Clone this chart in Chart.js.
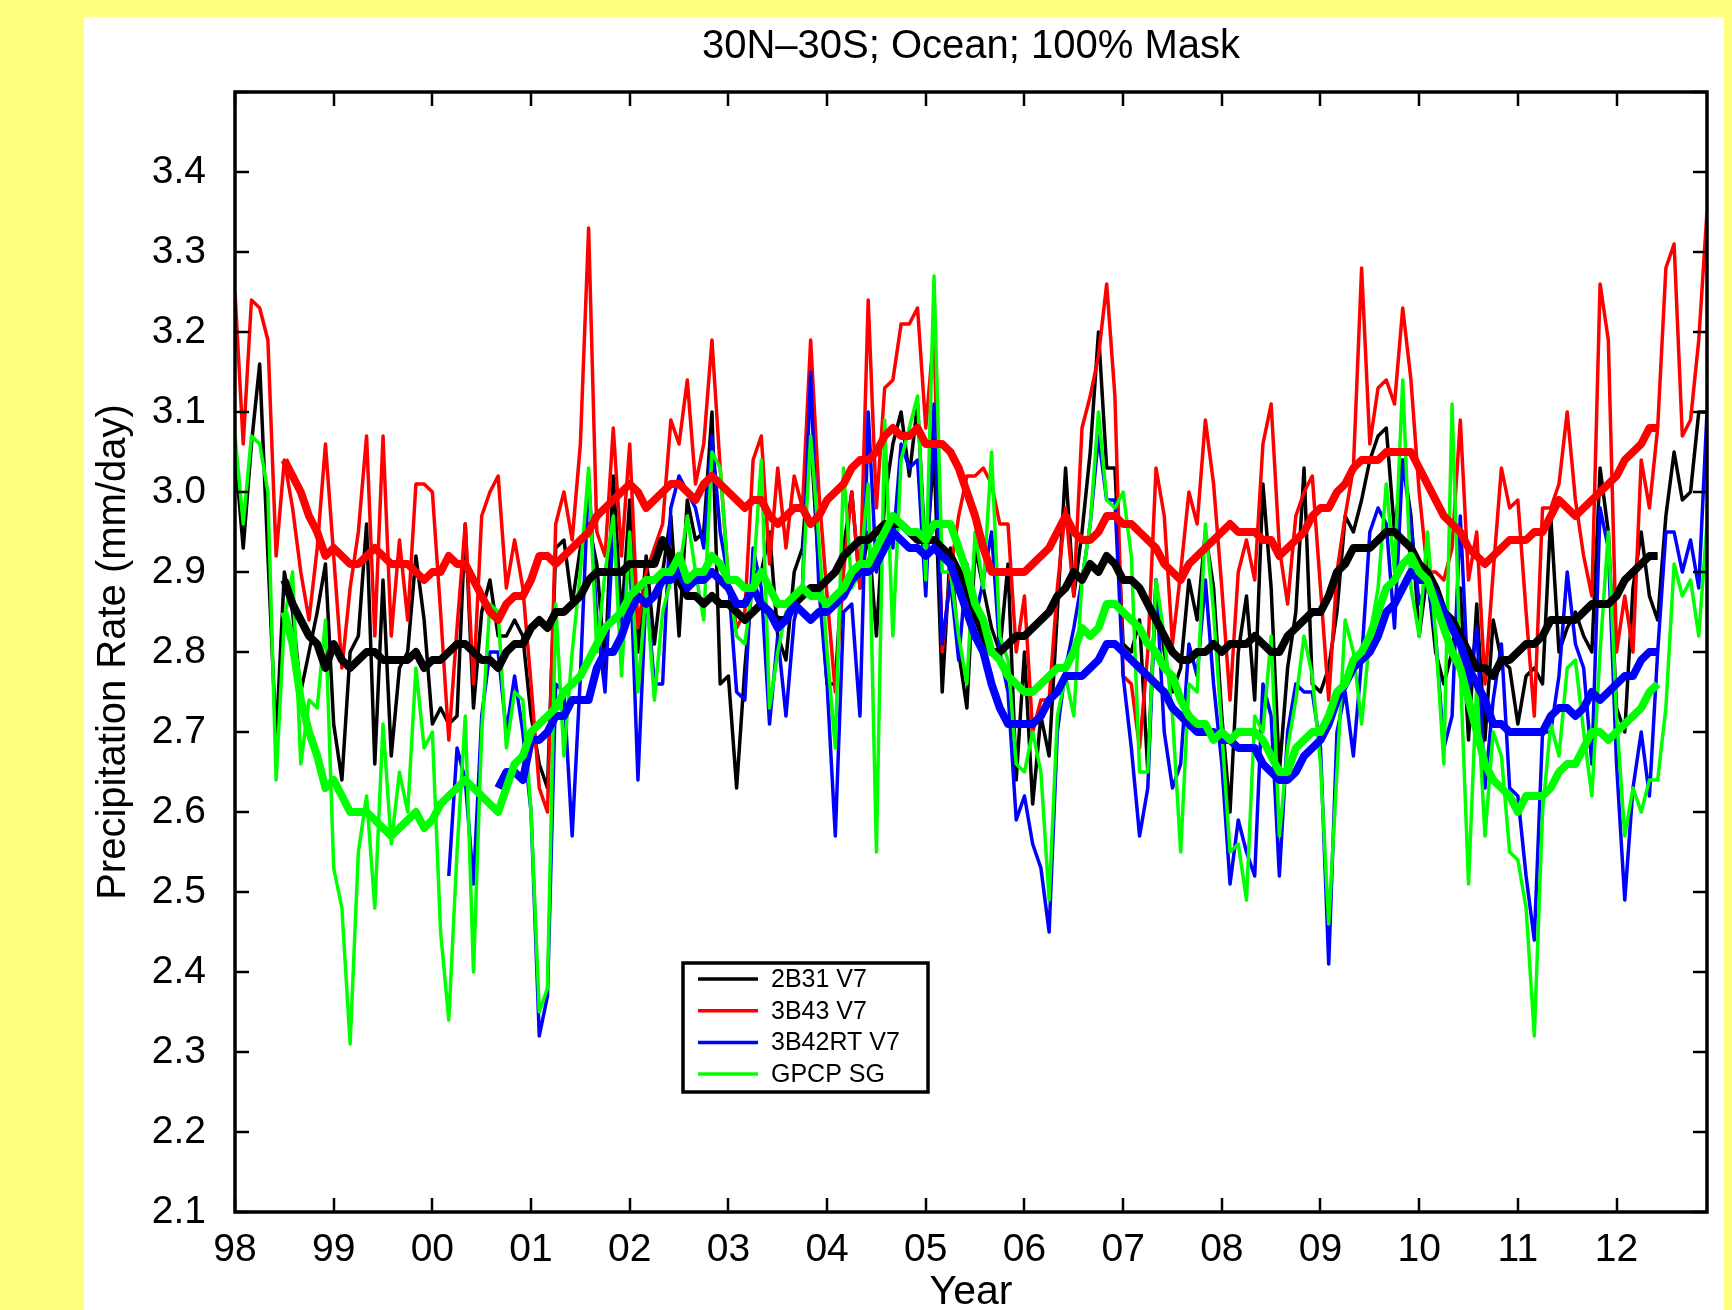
<!DOCTYPE html>
<html>
<head>
<meta charset="utf-8">
<script src="https://cdn.jsdelivr.net/npm/chart.js@4.4.1/dist/chart.umd.min.js"></script>
<style>
  html, body { margin: 0; padding: 0; background: #ffff80; overflow: hidden; }
  #panel { position: absolute; left: 84px; top: 17px; width: 1640px; height: 1300px; background: #fff; }
</style>
</head>
<body>
<div id="panel"><canvas id="chart"></canvas></div>
<script>
// Monthly tropical ocean precipitation, Jan 1998 - Dec 2012 (month index 0..179)

const yearLabels = ["98", "99", "00", "01", "02", "03", "04", "05", "06", "07", "08", "09", "10", "11", "12"];
const yTickValues = [2.1, 2.2, 2.3, 2.4, 2.5, 2.6, 2.7, 2.8, 2.9, 3.0, 3.1, 3.2, 3.3, 3.4, 3.5];
const seriesNames = ["2B31 V7", "3B43 V7", "3B42RT V7", "GPCP SG"];
const seriesColors = ["#000000", "#ff0000", "#0000ff", "#00ff00"];
const titleText = "30N\u201330S; Ocean; 100% Mask";

// 3B42RT starts in March 2000; running means start 6 months in
const rtStart = 26;
const meanStart = 6;
const rtMeanStart = 32;

// 2B31 V7, one row per year
const tmi2b31 = [
  3.05, 2.93, 3.06, 3.16, 2.92, 2.69, 2.90, 2.85, 2.75, 2.80, 2.85, 2.91,
  2.71, 2.64, 2.80, 2.82, 2.96, 2.66, 2.89, 2.67, 2.78, 2.80, 2.92, 2.84,
  2.71, 2.73, 2.71, 2.72, 2.96, 2.73, 2.85, 2.89, 2.82, 2.82, 2.84, 2.82,
  2.72, 2.66, 2.63, 2.93, 2.94, 2.86, 2.93, 2.96, 2.91, 2.78, 3.02, 2.84,
  2.99, 2.80, 2.92, 2.81, 2.90, 2.97, 2.82, 2.99, 2.94, 2.95, 3.10, 2.76,
  2.77, 2.63, 2.78, 2.90, 2.90, 2.95, 2.82, 2.79, 2.90, 2.93, 3.07, 2.90,
  2.76, 2.76, 2.93, 3.00, 2.88, 2.95, 2.82, 2.99, 3.06, 3.10, 3.02, 3.11,
  2.91, 3.05, 2.75, 2.93, 2.80, 2.73, 2.93, 2.88, 2.83, 2.80, 2.91, 2.64,
  2.80, 2.61, 2.72, 2.67, 2.85, 3.03, 2.87, 2.95, 3.05, 3.20, 3.03, 3.03,
  2.81, 2.80, 2.84, 2.65, 2.89, 2.80, 2.75, 2.78, 2.89, 2.84, 2.95, 2.88,
  2.72, 2.60, 2.80, 2.87, 2.74, 3.01, 2.88, 2.65, 2.78, 2.85, 3.03, 2.76,
  2.75, 2.78, 2.85, 2.97, 2.95, 2.99, 3.04, 3.07, 3.08, 2.95, 3.04, 2.97,
  2.82, 2.90, 2.80, 2.76, 2.80, 2.88, 2.69, 2.86, 2.69, 2.84, 2.79, 2.78,
  2.71, 2.77, 2.78, 2.76, 2.97, 2.80, 2.83, 2.85, 2.82, 2.80, 3.03, 2.95,
  2.73, 2.70, 2.88, 2.95, 2.87, 2.84, 2.97, 3.05, 2.99, 3.00, 3.10, 3.10
];

// 3B43 V7
const tmpa3b43 = [
  3.25, 3.06, 3.24, 3.23, 3.19, 2.92, 3.04, 2.98, 2.90, 2.84, 2.93, 3.06,
  2.92, 2.78, 2.88, 2.95, 3.07, 2.82, 3.07, 2.82, 2.94, 2.84, 3.01, 3.01,
  3.00, 2.85, 2.69, 2.83, 2.96, 2.76, 2.97, 3.00, 3.02, 2.88, 2.94, 2.88,
  2.76, 2.63, 2.60, 2.96, 3.00, 2.94, 3.06, 3.33, 2.95, 2.92, 3.08, 2.92,
  3.06, 2.83, 2.90, 2.93, 2.96, 3.09, 3.06, 3.14, 3.01, 3.06, 3.19, 3.03,
  2.89, 2.83, 2.85, 3.04, 3.07, 2.91, 3.03, 2.93, 3.02, 2.98, 3.19, 3.00,
  2.87, 2.75, 2.90, 3.00, 2.88, 3.24, 2.98, 3.13, 3.14, 3.21, 3.21, 3.23,
  3.08, 3.20, 2.80, 2.90, 2.97, 3.02, 3.02, 3.03, 3.01, 2.96, 2.96, 2.80,
  2.87, 2.70, 2.74, 2.74, 2.88, 2.98, 2.87, 3.08, 3.12, 3.17, 3.26, 3.12,
  2.77, 2.76, 2.68, 2.80, 3.03, 2.97, 2.81, 2.90, 3.00, 2.96, 3.09, 3.01,
  2.88, 2.74, 2.90, 2.94, 2.89, 3.06, 3.11, 2.93, 2.86, 2.97, 3.00, 3.02,
  2.88, 2.74, 2.90, 2.97, 3.03, 3.28, 3.06, 3.13, 3.14, 3.11, 3.23, 3.14,
  3.00, 2.90, 2.90, 2.89, 2.93, 3.09, 2.89, 2.95, 2.76, 2.90, 3.03, 2.98,
  2.99, 2.85, 2.72, 2.98, 2.98, 3.01, 3.10, 2.99, 2.92, 2.87, 3.26, 3.19,
  2.80, 2.87, 2.80, 3.04, 2.98, 3.08, 3.28, 3.31, 3.07, 3.09, 3.19, 3.35
];

// 3B42RT V7, from March 2000
const tmpa3b42rt = [
  2.52, 2.68, 2.64, 2.51, 2.72, 2.80, 2.80, 2.70, 2.77, 2.70,
  2.60, 2.32, 2.37, 2.76, 2.75, 2.57, 2.77, 3.02, 2.84, 2.75, 2.96, 2.82,
  2.93, 2.64, 2.88, 2.76, 2.76, 2.98, 3.02, 3.00, 2.98, 2.93, 3.07, 2.95,
  2.89, 2.75, 2.74, 2.93, 2.88, 2.71, 2.82, 2.72, 2.84, 2.88, 3.15, 2.88,
  2.76, 2.57, 2.85, 2.86, 2.72, 3.10, 2.90, 2.95, 2.93, 3.06, 3.03, 3.04,
  2.87, 3.11, 2.81, 2.89, 2.79, 2.91, 2.84, 2.89, 2.95, 2.80, 2.75, 2.59,
  2.62, 2.56, 2.53, 2.45, 2.70, 2.78, 2.83, 2.89, 2.96, 3.07, 2.99, 2.99,
  2.77, 2.68, 2.57, 2.63, 2.89, 2.70, 2.63, 2.66, 2.81, 2.77, 2.89, 2.76,
  2.66, 2.51, 2.59, 2.55, 2.52, 2.76, 2.72, 2.52, 2.70, 2.76, 2.75, 2.75,
  2.68, 2.41, 2.70, 2.75, 2.67, 2.79, 2.95, 2.98, 2.96, 2.83, 3.04, 2.96,
  2.86, 2.89, 2.82, 2.68, 2.72, 2.97, 2.75, 2.83, 2.63, 2.74, 2.81, 2.63,
  2.62, 2.52, 2.44, 2.70, 2.70, 2.77, 2.90, 2.81, 2.78, 2.66, 2.98, 2.93,
  2.66, 2.49, 2.63, 2.70, 2.62, 2.80, 2.95, 2.95, 2.90, 2.94, 2.88, 3.10
];

// GPCP SG
const gpcpSg = [
  3.07, 2.96, 3.07, 3.06, 3.00, 2.64, 2.84, 2.90, 2.66, 2.74, 2.73, 2.84,
  2.53, 2.48, 2.31, 2.55, 2.62, 2.48, 2.71, 2.56, 2.65, 2.60, 2.78, 2.68,
  2.70, 2.45, 2.34, 2.55, 2.72, 2.40, 2.70, 2.86, 2.85, 2.68, 2.75, 2.74,
  2.60, 2.35, 2.38, 2.86, 2.67, 2.80, 2.90, 3.03, 2.80, 2.90, 2.97, 2.77,
  2.95, 2.75, 2.88, 2.74, 2.85, 2.89, 2.90, 2.97, 2.90, 2.84, 3.05, 3.03,
  2.89, 2.82, 2.81, 2.89, 3.04, 2.73, 2.80, 2.85, 2.86, 2.88, 3.07, 2.94,
  2.80, 2.68, 3.03, 2.88, 2.90, 3.01, 2.55, 3.09, 2.82, 3.04, 3.08, 3.12,
  2.89, 3.27, 2.90, 2.90, 2.82, 2.76, 2.95, 2.88, 3.05, 2.82, 2.79, 2.66,
  2.65, 2.70, 2.65, 2.49, 2.72, 2.77, 2.72, 2.89, 2.96, 3.10, 2.99, 2.98,
  3.00, 2.92, 2.65, 2.65, 2.89, 2.82, 2.72, 2.55, 2.76, 2.75, 2.96, 2.85,
  2.70, 2.55, 2.56, 2.49, 2.72, 2.70, 2.82, 2.57, 2.68, 2.74, 2.82, 2.77,
  2.66, 2.46, 2.65, 2.84, 2.80, 2.71, 2.82, 2.88, 3.01, 2.90, 3.14, 2.88,
  2.82, 2.95, 2.82, 2.66, 3.11, 2.78, 2.51, 2.76, 2.57, 2.70, 2.67, 2.55,
  2.54, 2.48, 2.32, 2.60, 2.71, 2.67, 2.78, 2.79, 2.70, 2.62, 2.80, 2.95,
  2.72, 2.57, 2.63, 2.60, 2.64, 2.64, 2.73, 2.91, 2.87, 2.89, 2.82, 2.96
];

// 12-month running means (thick lines)
const tmi2b31Mean = [
  2.89, 2.86, 2.84, 2.82, 2.81, 2.78,
  2.81, 2.79, 2.78, 2.79, 2.80, 2.80, 2.79, 2.79, 2.79, 2.79, 2.80, 2.78,
  2.79, 2.79, 2.80, 2.81, 2.81, 2.80, 2.79, 2.79, 2.78, 2.80, 2.81, 2.81,
  2.83, 2.84, 2.83, 2.85, 2.85, 2.86, 2.87, 2.89, 2.90, 2.90, 2.90, 2.90,
  2.91, 2.91, 2.91, 2.91, 2.94, 2.92, 2.89, 2.87, 2.87, 2.86, 2.87, 2.86,
  2.86, 2.85, 2.84, 2.85, 2.86, 2.85, 2.84, 2.84, 2.86, 2.87, 2.88, 2.88,
  2.89, 2.90, 2.92, 2.93, 2.94, 2.94, 2.95, 2.96, 2.96, 2.96, 2.95, 2.94,
  2.94, 2.94, 2.93, 2.92, 2.90, 2.88, 2.85, 2.82, 2.80, 2.80, 2.81, 2.82,
  2.82, 2.83, 2.84, 2.85, 2.87, 2.88, 2.90, 2.89, 2.91, 2.90, 2.92, 2.91,
  2.89, 2.89, 2.88, 2.86, 2.84, 2.82, 2.80, 2.79, 2.79, 2.80, 2.80, 2.81,
  2.80, 2.81, 2.81, 2.81, 2.82, 2.81, 2.80, 2.80, 2.82, 2.83, 2.84, 2.85,
  2.85, 2.87, 2.90, 2.91, 2.93, 2.93, 2.93, 2.94, 2.95, 2.95, 2.94, 2.93,
  2.91, 2.90, 2.88, 2.85, 2.84, 2.82, 2.80, 2.78, 2.78, 2.77, 2.79, 2.79,
  2.80, 2.81, 2.81, 2.82, 2.84, 2.84, 2.84, 2.84, 2.85, 2.86, 2.86, 2.86,
  2.87, 2.89, 2.90, 2.91, 2.92, 2.92
];

const tmpa3b43Mean = [
  3.04, 3.02, 3.00, 2.97, 2.95, 2.92,
  2.93, 2.92, 2.91, 2.91, 2.92, 2.93, 2.92, 2.91, 2.91, 2.91, 2.90, 2.89,
  2.90, 2.90, 2.92, 2.91, 2.91, 2.89, 2.87, 2.85, 2.84, 2.86, 2.87, 2.87,
  2.89, 2.92, 2.92, 2.91, 2.92, 2.93, 2.94, 2.95, 2.97, 2.98, 2.99, 3.00,
  3.01, 3.00, 2.98, 2.99, 3.00, 3.01, 3.01, 3.00, 2.99, 3.01, 3.02, 3.01,
  3.00, 2.99, 2.98, 2.99, 2.99, 2.97, 2.96, 2.97, 2.98, 2.98, 2.96, 2.97,
  2.99, 3.00, 3.01, 3.03, 3.04, 3.04, 3.05, 3.07, 3.08, 3.07, 3.07, 3.08,
  3.06, 3.06, 3.06, 3.05, 3.03, 3.00, 2.97, 2.93, 2.90, 2.90, 2.90, 2.90,
  2.90, 2.91, 2.92, 2.93, 2.95, 2.97, 2.95, 2.94, 2.94, 2.95, 2.97, 2.97,
  2.96, 2.96, 2.95, 2.94, 2.93, 2.91, 2.90, 2.89, 2.91, 2.92, 2.93, 2.94,
  2.95, 2.96, 2.95, 2.95, 2.95, 2.94, 2.94, 2.92, 2.93, 2.94, 2.95, 2.97,
  2.98, 2.98, 3.00, 3.01, 3.03, 3.04, 3.04, 3.04, 3.05, 3.05, 3.05, 3.05,
  3.03, 3.01, 2.99, 2.97, 2.96, 2.95, 2.93, 2.92, 2.91, 2.92, 2.93, 2.94,
  2.94, 2.94, 2.95, 2.95, 2.97, 2.99, 2.98, 2.97, 2.98, 2.99, 3.00, 3.01,
  3.02, 3.04, 3.05, 3.06, 3.08, 3.08
];

const tmpa3b42rtMean = [
  2.63, 2.65, 2.65, 2.64,
  2.69, 2.69, 2.70, 2.72, 2.72, 2.74, 2.74, 2.74, 2.78, 2.80, 2.80, 2.82,
  2.85, 2.87, 2.86, 2.87, 2.89, 2.89, 2.90, 2.88, 2.89, 2.89, 2.90, 2.89,
  2.88, 2.86, 2.86, 2.88, 2.86, 2.85, 2.83, 2.84, 2.86, 2.85, 2.84, 2.85,
  2.85, 2.86, 2.87, 2.89, 2.90, 2.90, 2.91, 2.93, 2.95, 2.94, 2.93, 2.93,
  2.92, 2.93, 2.92, 2.91, 2.88, 2.85, 2.82, 2.80, 2.76, 2.73, 2.71, 2.71,
  2.71, 2.71, 2.72, 2.74, 2.75, 2.77, 2.77, 2.77, 2.78, 2.79, 2.81, 2.81,
  2.80, 2.79, 2.78, 2.77, 2.76, 2.75, 2.73, 2.72, 2.71, 2.70, 2.70, 2.70,
  2.69, 2.69, 2.68, 2.68, 2.68, 2.66, 2.65, 2.64, 2.64, 2.65, 2.67, 2.68,
  2.69, 2.71, 2.74, 2.76, 2.78, 2.79, 2.80, 2.82, 2.85, 2.86, 2.88, 2.90,
  2.89, 2.89, 2.87, 2.85, 2.83, 2.81, 2.78, 2.76, 2.74, 2.71, 2.71, 2.70,
  2.70, 2.70, 2.70, 2.70, 2.72, 2.73, 2.73, 2.72, 2.73, 2.75, 2.74, 2.75,
  2.76, 2.77, 2.77, 2.79, 2.80, 2.80
];

const gpcpSgMean = [
  2.85, 2.81, 2.74, 2.70, 2.67, 2.63,
  2.64, 2.62, 2.60, 2.60, 2.60, 2.59, 2.58, 2.57, 2.58, 2.59, 2.60, 2.58,
  2.59, 2.61, 2.62, 2.63, 2.64, 2.63, 2.62, 2.61, 2.60, 2.63, 2.66, 2.67,
  2.70, 2.71, 2.72, 2.73, 2.75, 2.76, 2.77, 2.79, 2.81, 2.83, 2.84, 2.85,
  2.87, 2.88, 2.89, 2.89, 2.90, 2.90, 2.92, 2.89, 2.90, 2.90, 2.92, 2.91,
  2.89, 2.89, 2.88, 2.88, 2.90, 2.88, 2.86, 2.86, 2.87, 2.88, 2.87, 2.87,
  2.86, 2.87, 2.88, 2.90, 2.91, 2.91, 2.93, 2.95, 2.97, 2.96, 2.95, 2.95,
  2.94, 2.96, 2.96, 2.96, 2.93, 2.90, 2.86, 2.84, 2.80, 2.79, 2.77, 2.76,
  2.75, 2.75, 2.76, 2.77, 2.78, 2.78, 2.80, 2.83, 2.82, 2.83, 2.86, 2.86,
  2.85, 2.84, 2.83, 2.81, 2.80, 2.78, 2.77, 2.74, 2.72, 2.71, 2.71, 2.69,
  2.70, 2.69, 2.70, 2.70, 2.70, 2.69, 2.67, 2.65, 2.65, 2.68, 2.69, 2.70,
  2.70, 2.72, 2.75, 2.76, 2.79, 2.80, 2.82, 2.85, 2.88, 2.89, 2.91, 2.92,
  2.90, 2.89, 2.86, 2.83, 2.80, 2.78, 2.74, 2.70, 2.66, 2.64, 2.63, 2.62,
  2.60, 2.62, 2.62, 2.62, 2.63, 2.65, 2.66, 2.66, 2.68, 2.70, 2.70, 2.69,
  2.70, 2.71, 2.72, 2.73, 2.75, 2.76
];

const FONT = '"Liberation Sans", Arial, Helvetica, sans-serif';

function pts(values, start) {
  return values.map((v, i) => ({ x: start + i, y: v }));
}

function line(values, start, color, width, order) {
  return {
    data: pts(values, start),
    borderColor: color,
    borderWidth: width,
    borderJoinStyle: "round",
    pointRadius: 0,
    tension: 0,
    fill: false,
    order
  };
}

// thin monthly lines first (underneath), thick running means on top
const datasets = [
  line(tmi2b31, 0, seriesColors[0], 3.5, 8),
  line(tmpa3b43, 0, seriesColors[1], 3.5, 7),
  line(tmpa3b42rt, rtStart, seriesColors[2], 3.5, 6),
  line(gpcpSg, 0, seriesColors[3], 3.5, 5),
  line(tmi2b31Mean, meanStart, seriesColors[0], 8, 4),
  line(tmpa3b43Mean, meanStart, seriesColors[1], 8, 3),
  line(tmpa3b42rtMean, rtMeanStart, seriesColors[2], 8, 2),
  line(gpcpSgMean, meanStart, seriesColors[3], 8, 1)
];

// title centred over the plot area rather than the whole canvas
const plotTitle = {
  id: "plotTitle",
  afterDraw(chart) {
    const { ctx, chartArea: a } = chart;
    ctx.save();
    ctx.font = "40px " + FONT;
    ctx.fillStyle = "#000";
    ctx.textAlign = "center";
    ctx.textBaseline = "middle";
    ctx.fillText(titleText, (a.left + a.right) / 2, a.top - 45);
    ctx.restore();
  }
};

// closed frame with inward tick marks on all four sides
const framePlugin = {
  id: "frame",
  afterDatasetsDraw(chart) {
    const { ctx, chartArea: a, scales } = chart;
    const len = 14;
    ctx.save();
    ctx.strokeStyle = "#000";
    ctx.lineWidth = 2.5;
    ctx.beginPath();
    scales.x.ticks.forEach(t => {
      const px = Math.round(scales.x.getPixelForValue(t.value));
      ctx.moveTo(px, a.bottom); ctx.lineTo(px, a.bottom - len);
      ctx.moveTo(px, a.top); ctx.lineTo(px, a.top + len);
    });
    scales.y.ticks.forEach(t => {
      const py = Math.round(scales.y.getPixelForValue(t.value));
      ctx.moveTo(a.left, py); ctx.lineTo(a.left + len, py);
      ctx.moveTo(a.right, py); ctx.lineTo(a.right - len, py);
    });
    ctx.stroke();
    ctx.lineWidth = 3.5;
    ctx.strokeRect(a.left, a.top, a.right - a.left, a.bottom - a.top);
    ctx.restore();
  }
};

// boxed legend in the lower middle of the plot
const legendBox = {
  id: "legendBox",
  afterDraw(chart) {
    const { ctx, chartArea: a } = chart;
    const x0 = a.left + 448, y0 = a.top + 871, w = 245, h = 129;
    ctx.save();
    ctx.fillStyle = "#fff";
    ctx.fillRect(x0, y0, w, h);
    ctx.lineWidth = 3.5;
    ctx.strokeStyle = "#000";
    ctx.strokeRect(x0, y0, w, h);
    ctx.font = "25px " + FONT;
    ctx.textBaseline = "middle";
    ctx.textAlign = "left";
    seriesNames.forEach((name, i) => {
      const yy = y0 + 16 + i * 31.7;
      ctx.strokeStyle = seriesColors[i];
      ctx.lineWidth = 3.5;
      ctx.beginPath();
      ctx.moveTo(x0 + 15, yy); ctx.lineTo(x0 + 75, yy);
      ctx.stroke();
      ctx.fillStyle = "#000";
      ctx.fillText(name, x0 + 88, yy + 1);
    });
    ctx.restore();
  }
};

Chart.defaults.font.family = FONT;
Chart.defaults.color = "#000";

new Chart(document.getElementById("chart"), {
  type: "line",
  data: { datasets },
  options: {
    responsive: true,
    maintainAspectRatio: false,
    animation: false,
    layout: { padding: { left: 0, right: 17, top: 75, bottom: 0 } },
    plugins: {
      legend: { display: false },
      tooltip: { enabled: false },
      title: { display: false }
    },
    scales: {
      x: {
        type: "linear",
        min: 0,
        max: 179,
        grid: { display: false },
        border: { display: false },
        afterBuildTicks: (axis) => { axis.ticks = yearLabels.map((_, i) => ({ value: i * 12 })); },
        afterFit: (axis) => { axis.height = 105; },
        ticks: {
          font: { size: 39 },
          padding: 7,
          maxRotation: 0,
          autoSkip: false,
          callback: (v) => yearLabels[Math.round(v / 12)]
        },
        title: { display: true, text: "Year", font: { size: 41 }, padding: { top: 0, bottom: 0 } }
      },
      y: {
        min: 2.1,
        max: 3.5,
        grid: { display: false },
        border: { display: false },
        afterBuildTicks: (axis) => { axis.ticks = yTickValues.map(v => ({ value: v })); },
        afterFit: (axis) => { axis.width = 151; },
        ticks: {
          font: { size: 39 },
          padding: 21,
          autoSkip: false,
          callback: (v) => v > 3.45 ? "" : v.toFixed(1)
        },
        title: { display: true, text: "Precipitation Rate (mm/day)", font: { size: 40 }, padding: { top: 6 } }
      }
    }
  },
  plugins: [framePlugin, legendBox, plotTitle]
});
</script>
</body>
</html>
